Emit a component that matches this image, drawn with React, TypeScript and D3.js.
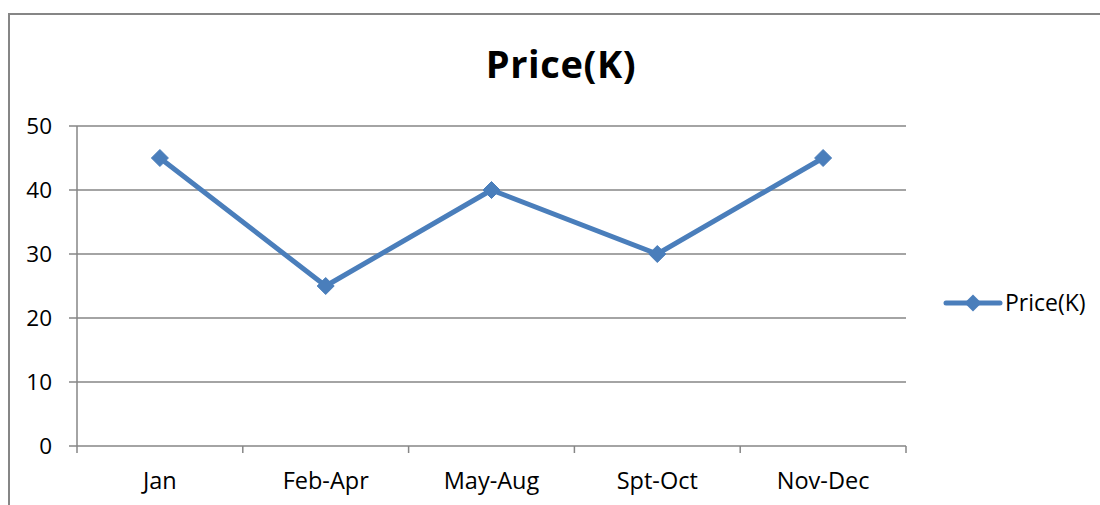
import React from "react";
import * as d3 from "d3";

const categories = ["Jan", "Feb-Apr", "May-Aug", "Spt-Oct", "Nov-Dec"];
const prices = [45, 25, 40, 30, 45];
const yTicks = [0, 10, 20, 30, 40, 50];
const seriesName = "Price(K)";
const title = "Price(K)";

export default function App() {
  const W = 1100, H = 505;
  const left = 77, right = 906, top = 126, bottom = 446;
  const x = d3.scaleBand<string>().domain(categories).range([left, right]);
  const y = d3.scaleLinear().domain([0, 50]).range([bottom, top]);
  const cx = (c: string) => (x(c) as number) + x.bandwidth() / 2;
  const line = d3.line<number>().x((_, i) => cx(categories[i])).y((d) => y(d));
  const grey = "#868686";
  const blue = "#4A7EBB";
  const font = "'Open Sans', 'Liberation Sans', sans-serif";
  const diamond = (px: number, py: number, r: number) =>
    `M${px},${py - r}L${px + r},${py}L${px},${py + r}L${px - r},${py}Z`;
  const bounds = [left, ...categories.map((c) => (x(c) as number) + x.bandwidth())];
  return (
    <svg width={W} height={H} style={{ position: "absolute", left: 0, top: 0 }}>
      <rect x={0} y={0} width={W} height={H} fill="#fff" />
      <path d={`M9,${H}V14H${W}`} fill="none" stroke={grey} strokeWidth={2} />
      <text x={561} y={78} textAnchor="middle" fontFamily={font} fontWeight="bold" fontSize={38} letterSpacing={0.6} fill="#000">
        {title}
      </text>
      {yTicks.map((t) => (
        <g key={t}>
          <line x1={69} x2={right} y1={y(t)} y2={y(t)} stroke={grey} strokeWidth={1.5} />
          <text x={52} y={y(t) + 8} textAnchor="end" fontFamily={font} fontSize={22.5} fill="#000">
            {t}
          </text>
        </g>
      ))}
      <line x1={left} x2={left} y1={top} y2={bottom} stroke={grey} strokeWidth={1.5} />
      {bounds.map((b, i) => (
        <line key={i} x1={b} x2={b} y1={bottom} y2={bottom + 7} stroke={grey} strokeWidth={1.5} />
      ))}
      {categories.map((c) => (
        <text key={c} x={cx(c)} y={489} textAnchor="middle" fontFamily={font} fontSize={23.5} fill="#000">
          {c}
        </text>
      ))}
      <path d={line(prices) as string} fill="none" stroke={blue} strokeWidth={5} strokeLinejoin="round" />
      {prices.map((p, i) => (
        <path key={i} d={diamond(cx(categories[i]), y(p), 8.5)} fill={blue} stroke={blue} strokeWidth={1} />
      ))}
      <line x1={946} x2={1000} y1={303} y2={303} stroke={blue} strokeWidth={5} strokeLinecap="round" />
      <path d={diamond(973, 303, 8.5)} fill={blue} />
      <text x={1005} y={311} fontFamily={font} fontSize={23} fill="#000">
        {seriesName}
      </text>
    </svg>
  );
}
